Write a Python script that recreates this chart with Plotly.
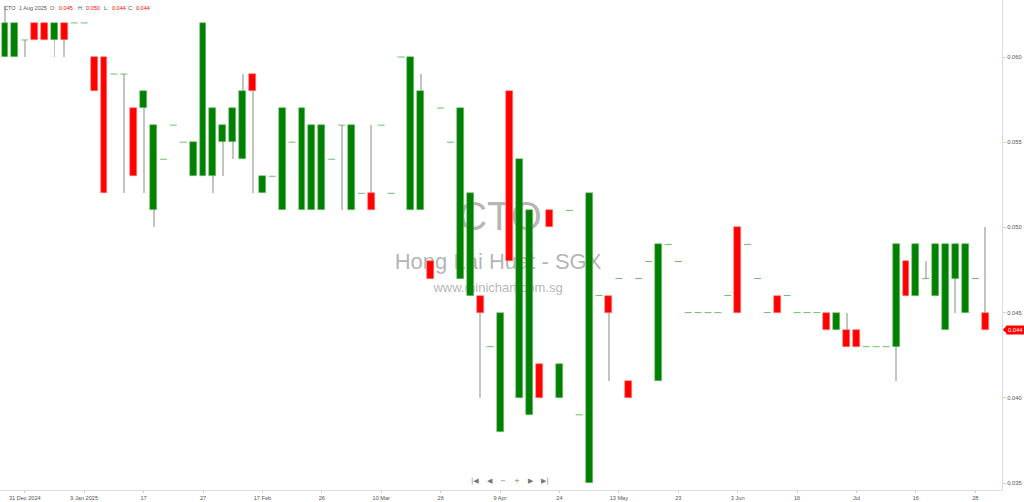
import plotly.graph_objects as go

# ---------------- data ----------------
symbol = "CTO"
company = "Hong Lai Huat - SGX"
website = "www.minichart.com.sg"
last_date = "1 Aug 2025"

open_ = [0.060, 0.060, 0.061, 0.062, 0.062, 0.061, 0.062, 0.062, 0.062, 0.060,
         0.060, 0.059, 0.059, 0.057, 0.057, 0.051, 0.054, 0.056, 0.055, 0.053,
         0.053, 0.053, 0.055, 0.055, 0.054, 0.059, 0.052, 0.053, 0.051, 0.055,
         0.051, 0.051, 0.051, 0.054, 0.056, 0.051, 0.052, 0.052, 0.056, 0.052,
         0.060, 0.051, 0.051, 0.048, 0.057, 0.055, 0.047, 0.046, 0.046, 0.043,
         0.038, 0.058, 0.040, 0.039, 0.042, 0.051, 0.040, 0.051, 0.039, 0.035,
         0.046, 0.046, 0.047, 0.041, 0.047, 0.048, 0.041, 0.049, 0.048, 0.045,
         0.045, 0.045, 0.045, 0.046, 0.050, 0.049, 0.047, 0.045, 0.046, 0.046,
         0.045, 0.045, 0.045, 0.045, 0.044, 0.044, 0.044, 0.043, 0.043, 0.043,
         0.043, 0.048, 0.046, 0.047, 0.046, 0.044, 0.047, 0.045, 0.047, 0.045]
high = [0.063, 0.062, 0.061, 0.062, 0.062, 0.062, 0.062, 0.062, 0.062, 0.060,
        0.060, 0.059, 0.059, 0.057, 0.058, 0.056, 0.054, 0.056, 0.055, 0.055,
        0.062, 0.057, 0.056, 0.057, 0.059, 0.059, 0.053, 0.053, 0.057, 0.055,
        0.057, 0.056, 0.056, 0.054, 0.056, 0.056, 0.052, 0.056, 0.056, 0.052,
        0.060, 0.060, 0.059, 0.048, 0.057, 0.055, 0.057, 0.052, 0.046, 0.043,
        0.045, 0.058, 0.054, 0.051, 0.042, 0.051, 0.042, 0.051, 0.039, 0.052,
        0.046, 0.046, 0.047, 0.041, 0.047, 0.048, 0.049, 0.049, 0.048, 0.045,
        0.045, 0.045, 0.045, 0.046, 0.050, 0.049, 0.047, 0.045, 0.046, 0.046,
        0.045, 0.045, 0.045, 0.045, 0.045, 0.045, 0.044, 0.043, 0.043, 0.043,
        0.049, 0.048, 0.049, 0.048, 0.049, 0.049, 0.049, 0.049, 0.047, 0.050]
low = [0.060, 0.060, 0.060, 0.061, 0.061, 0.060, 0.060, 0.062, 0.062, 0.058,
       0.052, 0.059, 0.052, 0.053, 0.052, 0.050, 0.054, 0.056, 0.055, 0.053,
       0.053, 0.052, 0.053, 0.054, 0.054, 0.052, 0.052, 0.053, 0.051, 0.055,
       0.051, 0.051, 0.051, 0.054, 0.051, 0.051, 0.052, 0.051, 0.056, 0.052,
       0.060, 0.051, 0.051, 0.047, 0.057, 0.055, 0.047, 0.046, 0.040, 0.043,
       0.038, 0.048, 0.040, 0.039, 0.040, 0.050, 0.040, 0.051, 0.039, 0.035,
       0.046, 0.041, 0.047, 0.040, 0.047, 0.048, 0.041, 0.049, 0.048, 0.045,
       0.045, 0.045, 0.045, 0.046, 0.045, 0.049, 0.047, 0.045, 0.045, 0.046,
       0.045, 0.045, 0.045, 0.044, 0.044, 0.043, 0.043, 0.043, 0.043, 0.043,
       0.041, 0.046, 0.046, 0.047, 0.046, 0.044, 0.045, 0.045, 0.047, 0.044]
close = [0.062, 0.062, 0.061, 0.061, 0.061, 0.062, 0.061, 0.062, 0.062, 0.058,
         0.052, 0.059, 0.059, 0.053, 0.058, 0.056, 0.054, 0.056, 0.055, 0.055,
         0.062, 0.057, 0.056, 0.057, 0.058, 0.058, 0.053, 0.053, 0.057, 0.055,
         0.057, 0.056, 0.056, 0.054, 0.056, 0.056, 0.052, 0.051, 0.056, 0.052,
         0.060, 0.060, 0.058, 0.047, 0.057, 0.055, 0.057, 0.052, 0.045, 0.043,
         0.045, 0.048, 0.054, 0.051, 0.040, 0.050, 0.042, 0.051, 0.039, 0.052,
         0.046, 0.045, 0.047, 0.040, 0.047, 0.048, 0.049, 0.049, 0.048, 0.045,
         0.045, 0.045, 0.045, 0.046, 0.045, 0.049, 0.047, 0.045, 0.045, 0.046,
         0.045, 0.045, 0.045, 0.044, 0.045, 0.043, 0.043, 0.043, 0.043, 0.043,
         0.049, 0.046, 0.049, 0.047, 0.049, 0.049, 0.049, 0.049, 0.047, 0.044]

x_tick_index = [2, 8, 14, 20, 26, 32, 38, 44, 50, 56, 62, 68, 74, 80, 86, 92, 98]
x_tick_labels = ["31 Dec 2024", "9 Jan 2025", "17", "27", "17 Feb", "26", "10 Mar",
                 "26", "9 Apr", "24", "13 May", "23", "3 Jun", "16", "Jul", "16", "28"]
y_tick_values = [0.035, 0.040, 0.045, 0.050, 0.055, 0.060]

# ---------------- styling ----------------
GREEN = "#008000"
RED = "#ff0000"
GREEN_EDGE = "#7fc27f"
RED_EDGE = "#ff8080"
DOJI = "#6cbf6c"
WICK = "#c4c4c4"
FONT = "Liberation Sans"
X_RANGE = [-0.505, 100.7]
Y_RANGE = [0.034589, 0.063345]

n = len(close)
idx = list(range(n))

fig = go.Figure()

# watermark on the base axes (drawn beneath the overlay axes holding the candles)
fig.add_trace(go.Scatter(
    x=[50.0, 49.8, 49.8], y=[0.05043, 0.04791, 0.04642],
    mode="text", text=[symbol, company, website],
    textfont=dict(family=FONT, size=[40, 22, 13],
                  color=["rgba(110,110,110,0.5)", "rgba(130,130,130,0.6)", "rgba(130,130,130,0.6)"]),
    hoverinfo="skip", showlegend=False, xaxis="x", yaxis="y"))

# wicks (thin bars, drawn before bodies)
wx, wbase, wh = [], [], []
for i in idx:
    if high[i] > low[i]:
        wx.append(i)
        wbase.append(low[i])
        wh.append(high[i] - low[i])
fig.add_trace(go.Bar(x=wx, y=wh, base=wbase, width=0.1,
                     marker=dict(color=WICK, line=dict(width=0)),
                     hoverinfo="skip", showlegend=False, xaxis="x2", yaxis="y2"))

# bodies
bx, bbase, bh, bcol, bedge = [], [], [], [], []
dx, dy = [], []
for i in idx:
    o, c = open_[i], close[i]
    if abs(c - o) < 1e-9:
        dx.append(i)
        dy.append(c)
    else:
        bx.append(i)
        bbase.append(min(o, c))
        bh.append(abs(c - o))
        up = c > o
        bcol.append(GREEN if up else RED)
        bedge.append(GREEN_EDGE if up else RED_EDGE)
fig.add_trace(go.Bar(x=bx, y=bh, base=bbase, width=0.7,
                     marker=dict(color=bcol, line=dict(color=bedge, width=0.6)),
                     hoverinfo="skip", showlegend=False, xaxis="x2", yaxis="y2"))

# doji / unchanged days
fig.add_trace(go.Scatter(x=dx, y=dy, mode="markers",
                         marker=dict(symbol="line-ew", size=5, line=dict(color=DOJI, width=1)),
                         hoverinfo="skip", showlegend=False, xaxis="x2", yaxis="y2"))

PLOT_W = 1002.0
PLOT_H = 490.0

fig.update_layout(
    width=1024, height=502, autosize=False,
    margin=dict(l=0, r=22, t=0, b=12, pad=0),
    paper_bgcolor="white", plot_bgcolor="white",
    showlegend=False, barmode="overlay", bargap=0,
    font=dict(family=FONT, size=6, color="#555"),
    xaxis=dict(range=X_RANGE, tickmode="array", tickvals=x_tick_index,
               ticktext=x_tick_labels, showgrid=False, zeroline=False,
               showline=True, linecolor="#dcdcdc", linewidth=1,
               ticks="outside", ticklen=2, tickcolor="#cfcfcf",
               tickfont=dict(size=5.6, color="#555", family=FONT), fixedrange=True,
               automargin=False),
    yaxis=dict(range=Y_RANGE, side="right", tickmode="array",
               tickvals=y_tick_values, tickformat=".3f", showgrid=False, zeroline=False,
               showline=True, linecolor="#dcdcdc", linewidth=1,
               ticks="outside", ticklen=3, tickcolor="#cfcfcf",
               tickfont=dict(size=5.8, color="#555", family=FONT), fixedrange=True,
               automargin=False),
    xaxis2=dict(range=X_RANGE, overlaying="x", visible=False, fixedrange=True),
    yaxis2=dict(range=Y_RANGE, overlaying="y", visible=False, fixedrange=True),
)

# header (last bar OHLC)
last = n - 1
header = [(symbol, 3, "#555"), (last_date, 18, "#555"),
          ("O:", 49, "#555"), (f"{open_[last]:.3f}", 58, RED),
          ("H:", 77, "#555"), (f"{high[last]:.3f}", 85, RED),
          ("L:", 103, "#555"), (f"{low[last]:.3f}", 111, RED),
          ("C:", 127, "#555"), (f"{close[last]:.3f}", 135, RED)]
for txt, px, col in header:
    fig.add_annotation(x=px / PLOT_W, y=1 - 8 / PLOT_H, xref="paper", yref="paper",
                       text=txt, showarrow=False, xanchor="left", yanchor="middle",
                       borderpad=0, font=dict(size=5.5, color=col, family=FONT))

# navigation controls
nav = [("|◀", 475), ("◀", 490), ("−", 503), ("+", 517), ("▶", 531), ("▶|", 545)]
for txt, px in nav:
    fig.add_annotation(x=px / PLOT_W, y=1 - 481 / PLOT_H, xref="paper", yref="paper",
                       text=txt, showarrow=False, xanchor="center", yanchor="middle",
                       font=dict(size=7, color="#777", family="DejaVu Sans"))

# last price tag
fig.add_annotation(x=1.0, y=close[last], xref="paper", yref="y", xshift=4,
                   text=f"{close[last]:.3f}", showarrow=False, xanchor="left", yanchor="middle",
                   bgcolor=RED, borderpad=1, font=dict(size=5.8, color="white", family=FONT))
fig.add_shape(type="path", xref="paper", yref="y",
              path=f"M 1.0007 {close[last]} L 1.0050 {close[last] + 0.00024} L 1.0050 {close[last] - 0.00024} Z",
              fillcolor=RED, line=dict(width=0))

fig.write_html("out.html", config={"displayModeBar": False},
               post_script="document.body.style.margin='0px';document.body.style.overflow='hidden';")
